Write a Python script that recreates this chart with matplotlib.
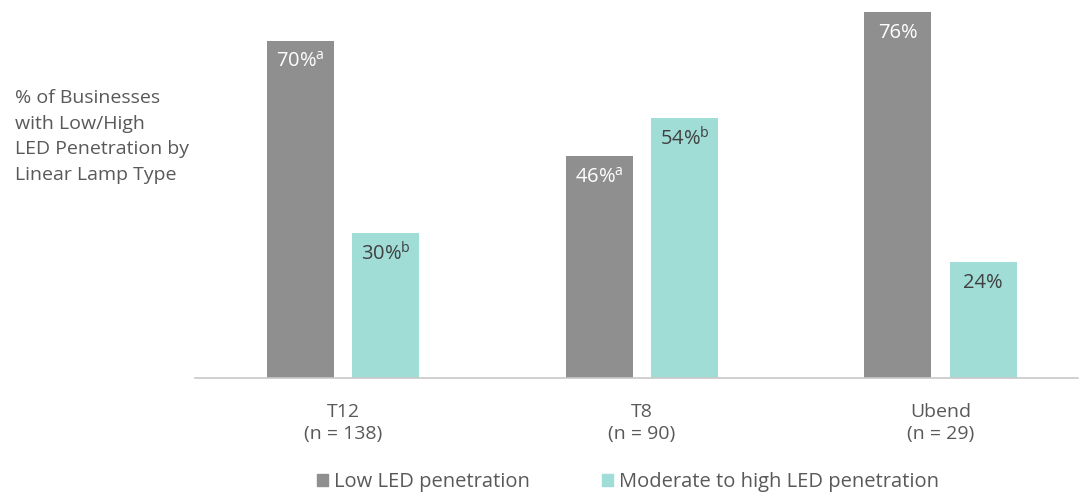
import matplotlib
matplotlib.use("Agg")
import matplotlib.pyplot as plt
import numpy as np
from matplotlib.patches import Patch

plt.rcParams['font.family'] = ['Open Sans', 'DejaVu Sans']
plt.rcParams['mathtext.fontset'] = 'custom'
plt.rcParams['mathtext.rm'] = 'Open Sans'

lamp_types = ["T12\n(n = 138)", "T8\n(n = 90)", "Ubend\n(n = 29)"]
low_led = [70, 46, 76]
high_led = [30, 54, 24]
low_sup = ["a", "a", ""]
high_sup = ["b", "b", ""]

gray = "#8f8f8f"
teal = "#a0ddd7"
txt = "#595959"

fig = plt.figure(figsize=(10.8, 4.95), dpi=100)
ax = fig.add_axes([195 / 1080, 1 - 378 / 495, 883 / 1080, 378 / 495])

x = np.arange(len(lamp_types))
w = 0.225
off = 0.143
ax.bar(x - off, low_led, w, color=gray)
ax.bar(x + off, high_led, w, color=teal)


def label(val, sup):
    s = f"{val}%"
    if sup:
        s += r"$^{\mathrm{" + sup + "}}$"
    return s


for i in range(len(x)):
    ax.annotate(label(low_led[i], low_sup[i]), (x[i] - off, low_led[i]),
                xytext=(0, -21), textcoords="offset pixels",
                ha="center", va="center", color="white", fontsize=14.5)
    ax.annotate(label(high_led[i], high_sup[i]), (x[i] + off, high_led[i]),
                xytext=(0, -21), textcoords="offset pixels",
                ha="center", va="center", color="#404040", fontsize=14.5)

ax.set_xlim(-0.496, 2.46)
ax.set_ylim(0, 78.4)
ax.set_xticks(x)
ax.set_xticklabels(lamp_types, color=txt, fontsize=14, linespacing=1.3)
ax.tick_params(axis="x", length=0, pad=18)
ax.set_yticks([])
for s in ["top", "right", "left"]:
    ax.spines[s].set_visible(False)
ax.spines["bottom"].set_color("#c8c8c8")
ax.spines["bottom"].set_linewidth(1.2)

fig.text(15 / 1080, 1 - 89 / 495,
         "% of Businesses\nwith Low/High\nLED Penetration by\nLinear Lamp Type",
         ha="left", va="top", color=txt, fontsize=14, linespacing=1.55)

handles = [Patch(color=gray, label="Low LED penetration"),
           Patch(color=teal, label="Moderate to high LED penetration")]
fig.legend(handles=handles, loc="center", bbox_to_anchor=(628 / 1080, 1 - 482 / 495),
           ncol=2, frameon=False, fontsize=14.5, handlelength=0.55, handleheight=0.55,
           handletextpad=0.3, columnspacing=3.6, labelcolor=txt)

fig.savefig("out.png", dpi=100)
